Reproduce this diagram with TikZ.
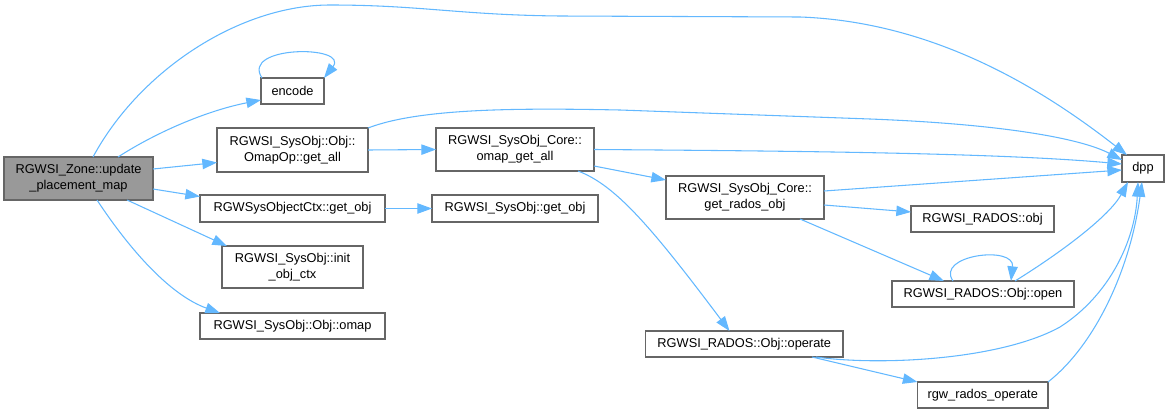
\documentclass[tikz,border=0pt]{standalone}
\usepackage{fontspec}
\setmainfont{Liberation Sans}
\usetikzlibrary{arrows.meta,calc}
\definecolor{edgeblue}{HTML}{63B8FF}
\definecolor{boxline}{HTML}{666666}
\definecolor{zonefill}{HTML}{999999}
\begin{document}
\begin{tikzpicture}[x=0.75pt,y=-0.75pt,
  fn/.style={draw=boxline, line width=0.9pt, fill=white, inner sep=0pt, outer sep=0pt,
    align=center, font=\fontsize{9.6}{12}\selectfont, text=black},
  link/.style={draw=edgeblue, line width=0.8pt, -{Triangle[length=11pt,width=7.8pt]}},
]
\useasboundingbox (0,0) rectangle (1170,414);

\node[fn, fill=zonefill, minimum width=149*0.75pt, minimum height=43*0.75pt] (zone) at (78.5,178.5) {RGWSI\_Zone::update\\\_placement\_map};
\node[fn, minimum width=63*0.75pt, minimum height=26*0.75pt] (encode) at (292.5,91) {encode};
\node[fn, minimum width=151*0.75pt, minimum height=44*0.75pt] (omapop) at (292.5,150) {RGWSI\_SysObj::Obj::\\OmapOp::get\_all};
\node[fn, minimum width=185*0.75pt, minimum height=27*0.75pt] (ctxget) at (292.5,208.5) {RGWSysObjectCtx::get\_obj};
\node[fn, minimum width=141*0.75pt, minimum height=42*0.75pt] (init) at (292.5,267) {RGWSI\_SysObj::init\\\_obj\_ctx};
\node[fn, minimum width=185*0.75pt, minimum height=26*0.75pt] (omap) at (292.5,326) {RGWSI\_SysObj::Obj::omap};
\node[fn, minimum width=158*0.75pt, minimum height=43*0.75pt] (coreomap) at (515,149.5) {RGWSI\_SysObj\_Core::\\omap\_get\_all};
\node[fn, minimum width=166*0.75pt, minimum height=27*0.75pt] (sysget) at (515,208.5) {RGWSI\_SysObj::get\_obj};
\node[fn, minimum width=158*0.75pt, minimum height=43*0.75pt] (getrados) at (745,197.5) {RGWSI\_SysObj\_Core::\\get\_rados\_obj};
\node[fn, minimum width=197.5*0.75pt, minimum height=26*0.75pt] (operate) at (744.25,344) {RGWSI\_RADOS::Obj::operate};
\node[fn, minimum width=42*0.75pt, minimum height=27*0.75pt] (dpp) at (1143,168.5) {dpp};
\node[fn, minimum width=143*0.75pt, minimum height=26*0.75pt] (radosobj) at (982.5,219) {RGWSI\_RADOS::obj};
\node[fn, minimum width=182*0.75pt, minimum height=26*0.75pt] (open) at (983,294) {RGWSI\_RADOS::Obj::open};
\node[fn, minimum width=130.5*0.75pt, minimum height=26*0.75pt] (rgwop) at (982.75,395) {rgw\_rados\_operate};

% edges from zone
\draw[link] ($(zone.north west)+(89,0)$) .. controls (140,70) and (240,5) .. (330,5)
  .. controls (420,5) and (460,15) .. (560,16) -- (800,17)
  .. controls (940,22) and (1050,95) .. ($(dpp.north west)+(5,0)$);
\draw[link] ($(zone.north west)+(114,0)$) .. controls (160,130) and (210,110) .. ($(encode.west)+(0,9)$);
\draw[link] ($(zone.east)+(0,-9.5)$) -- ($(omapop.west)+(0,12.5)$);
\draw[link] ($(zone.east)+(0,10.5)$) -- ($(ctxget.west)+(0,-12)$);
\draw[link] ($(zone.south west)+(123,0)$) -- ($(init.north west)+(5,0)$);
\draw[link] ($(zone.south west)+(93,0)$) .. controls (130,250) and (170,295) .. ($(omap.north west)+(20,0)$);

% encode self loop
\draw[link] ($(encode.north west)+(1,0)$) .. controls (240,45) and (350,45) .. (encode.north east);

% omapop
\draw[link] (omapop.north east) .. controls (420,108) and (520,108) .. (620,110) -- (870,119)
  .. controls (1000,124) and (1080,138) .. ($(dpp.north west)+(0,5)$);
\draw[link] (omapop.east) -- (coreomap.west);

% coreomap
\draw[link] (coreomap.east) .. controls (800,151) and (1000,153) .. ($(dpp.west)+(0,-4.5)$);
\draw[link] ($(coreomap.east)+(0,16.5)$) -- ($(getrados.west)+(0,-17.5)$);
\draw[link] ($(coreomap.south east)+(-16,0)$) .. controls (615,185) and (650,225) .. ($(operate.north west)+(84,0)$);

% ctxget
\draw[link] (ctxget.east) -- (sysget.west);

% getrados
\draw[link] ($(getrados.east)+(0,-6.5)$) -- ($(dpp.west)+(0,1.5)$);
\draw[link] ($(getrados.east)+(0,7.5)$) -- ($(radosobj.west)+(0,-7)$);
\draw[link] ($(getrados.south east)+(-24,0)$) -- ($(open.north west)+(52,0)$);

% open
\draw[link] ($(open.north west)+(61,0)$) .. controls (935,255) and (1015,245) .. ($(open.north west)+(119,0)$);
\draw[link] ($(open.north west)+(123,0)$) .. controls (1065,250) and (1110,215) .. ($(dpp.south west)+(6,0)$);

% operate
\draw[link] ($(operate.south east)+(-27,0)$) .. controls (880,366) and (1000,360) .. (1060,327)
  .. controls (1110,295) and (1135,240) .. ($(dpp.south west)+(16,0)$);
\draw[link] ($(operate.south east)+(-31,0)$) -- (rgwop.north west);

% rgwop
\draw[link] (rgwop.north east) .. controls (1095,345) and (1130,270) .. ($(dpp.south west)+(20,0)$);
\end{tikzpicture}
\end{document}
